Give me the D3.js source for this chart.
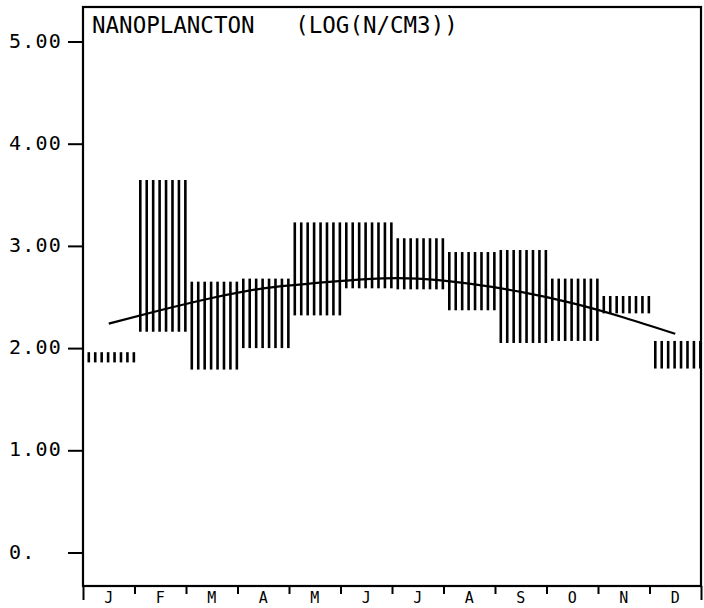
<!DOCTYPE html>
<html>
<head>
<meta charset="utf-8">
<script src="https://cdn.jsdelivr.net/npm/d3@7"></script>
<style>
  html, body { margin: 0; padding: 0; background: #fff; }
  svg { display: block; }
  text { font-family: "DejaVu Sans Mono", "Liberation Mono", monospace; fill: #000; }
</style>
</head>
<body>
<svg id="chart" width="704" height="608"></svg>
<script>
// ---- data ----
const months = ["J", "F", "M", "A", "M", "J", "J", "A", "S", "O", "N", "D"];
const lowVals  = [1.86, 2.16, 1.79, 2.00, 2.32, 2.585, 2.575, 2.37, 2.05, 2.07, 2.34, 1.80];
const highVals = [1.96, 3.645, 2.65, 2.68, 3.23, 3.23, 3.075, 2.94, 2.96, 2.68, 2.51, 2.07];
const curveMonths = [0.5, 1.5, 2.5, 3.5, 4.5, 5.5, 6.5, 7.5, 8.5, 9.5, 10.5, 11.5];
const curveVals   = [2.24, 2.37, 2.49, 2.585, 2.635, 2.675, 2.68, 2.63, 2.55, 2.44, 2.30, 2.14];
const yTicks = [0, 1, 2, 3, 4, 5];
const yTickLabels = ["0.", "1.00", "2.00", "3.00", "4.00", "5.00"];
const title = "NANOPLANCTON   (LOG(N/CM3))";
const linesPerMonth = 8;

(function () {
  // ---- layout ----
  const svg = d3.select("#chart");
  const pLeft = 83, pRight = 701, pTop = 7, pBottom = 586;
  const x = d3.scaleLinear().domain([0, 12]).range([pLeft, pRight]);
  const y = d3.scaleLinear().domain([0, 5]).range([552.5, 41.5]);

  // hatch bars
  const hatch = [];
  months.forEach((m, i) => {
    for (let j = 0; j < linesPerMonth; j++) {
      hatch.push({ pos: i + (j + 0.9) / linesPerMonth, lo: lowVals[i], hi: highVals[i] });
    }
  });
  svg.append("g").selectAll("line").data(hatch).join("line")
    .attr("x1", d => x(d.pos)).attr("x2", d => x(d.pos))
    .attr("y1", d => y(d.hi)).attr("y2", d => y(d.lo))
    .attr("stroke", "#000").attr("stroke-width", 2.6);

  // fitted curve
  const pts = curveMonths.map((m, i) => [m, curveVals[i]]);
  svg.append("path")
    .datum(pts)
    .attr("d", d3.line().x(d => x(d[0])).y(d => y(d[1])).curve(d3.curveNatural))
    .attr("fill", "none").attr("stroke", "#000").attr("stroke-width", 2.2);

  // frame
  svg.append("rect")
    .attr("x", pLeft).attr("y", pTop).attr("width", pRight - pLeft).attr("height", pBottom - pTop)
    .attr("fill", "none").attr("stroke", "#000").attr("stroke-width", 2.2);

  // y axis ticks
  const yAxis = svg.append("g").attr("transform", `translate(${pLeft},0)`)
    .call(d3.axisLeft(y).tickValues(yTicks).tickSize(15).tickSizeOuter(0).tickFormat(""));
  yAxis.select(".domain").remove();
  yAxis.selectAll(".tick line").attr("stroke", "#000").attr("stroke-width", 2);

  svg.append("g").selectAll("text").data(yTicks).join("text")
    .attr("x", 9)
    .attr("y", d => y(d) + 6)
    .attr("font-size", 20)
    .attr("letter-spacing", 1.2)
    .text((d, i) => yTickLabels[i]);

  // x axis ticks (month boundaries)
  const xAxis = svg.append("g").attr("transform", `translate(0,${pBottom})`)
    .call(d3.axisBottom(x).tickValues(d3.range(0, 13)).tickSize(8).tickSizeOuter(0).tickFormat(""));
  xAxis.select(".domain").remove();
  xAxis.selectAll(".tick line")
    .attr("stroke", "#000").attr("stroke-width", 2)
    .attr("y2", d => (d === 0 || d === 12) ? 14 : 8);

  svg.append("g").selectAll("text").data(months).join("text")
    .attr("x", (d, i) => x(i + 0.5))
    .attr("y", 603)
    .attr("text-anchor", "middle")
    .attr("font-size", 15)
    .text(d => d);

  // title
  svg.append("text")
    .attr("x", 92).attr("y", 33)
    .attr("font-size", 22.5)
    .style("white-space", "pre")
    .attr("xml:space", "preserve")
    .text(title);
})();
</script>
</body>
</html>
